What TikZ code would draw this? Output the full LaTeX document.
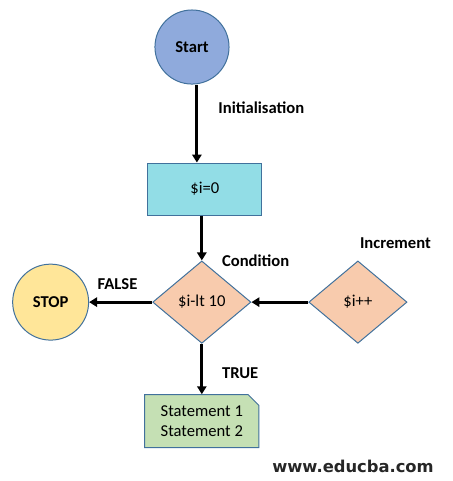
\documentclass[tikz,border=0pt]{standalone}
\usepackage{fontspec}
\setmainfont{Carlito}
\newfontfamily\webfont{DejaVu Sans}
\usetikzlibrary{shapes.geometric, shapes.misc, arrows.meta, positioning}

\definecolor{startblue}{HTML}{8FAADC}
\definecolor{initcyan}{HTML}{92DDE6}
\definecolor{diapeach}{HTML}{F8CBAD}
\definecolor{stopgold}{HTML}{FFE699}
\definecolor{stmtgreen}{HTML}{C5E0B4}
\definecolor{edgeblue}{HTML}{41719C}

\tikzset{
  box/.style={draw=edgeblue, line width=0.75pt, font=\fontsize{12.5}{14.5}\selectfont},
  term/.style={box, circle, inner sep=0pt, font=\fontsize{12.5}{14.5}\selectfont\bfseries},
  decide/.style={box, diamond, fill=diapeach, inner sep=0pt, minimum width=2.6cm, minimum height=2.18cm},
  lbl/.style={inner sep=0pt, font=\fontsize{12.5}{14.5}\selectfont\bfseries},
}

\begin{document}
\begin{tikzpicture}[>={Triangle[length=6pt, width=7pt]}]
        \useasboundingbox (-5.08,1.244) rectangle (6.906,-11.483);

        \node[term, fill=startblue, minimum size=1.96cm] (start) {Start};

        % Loop variable set once
        \node[box, fill=initcyan, minimum width=3.02cm, minimum height=1.38cm] (init) [below of=start, node distance=3.76cm, xshift=0.34cm] {\$i=0};

        % Test and the two ways out
        \node[decide] (cond) [below of=init, node distance=2.99cm, xshift=-0.08cm] {\$i-lt 10};
        \node[term, fill=stopgold, minimum size=2.01cm] (stop) [left of=cond, node distance=4cm] {STOP};
        \node[decide] (incr) [right of=cond, node distance=4.13cm] {\$i++};
        \node[box, chamfered rectangle, chamfered rectangle corners=north east, chamfered rectangle xsep=4pt, chamfered rectangle ysep=4pt, fill=stmtgreen, minimum width=3.02cm, minimum height=1.4cm, align=left] (stmt) [below of=cond, node distance=3.15cm] {Statement 1\\Statement 2};

        % Names beside the blocks
        \node[lbl, right] (condlbl) at ([xshift=0.53cm]cond.north) {Condition};
        \node[lbl, right] (incrlbl) at ([xshift=0.05cm, yshift=0.45cm]incr.north) {Increment};

        \node[font=\webfont\bfseries\fontsize{12.3}{14}\selectfont, text=black!85] (site) at (4.26,-11.09) {www.educba.com};

        \path[->, line width=2.25pt]
        % Into the loop
        ([xshift=0.13cm]start.south) edge node[lbl, right, pos=0.3, xshift=0.53cm] {Initialisation} ([xshift=0.13cm]start.south |- init.north)
        (init.south -| cond.north) edge (cond.north)

        % Leaving or running the body
        (cond) edge node[lbl, above, pos=0.55, yshift=0.29cm] {FALSE} (stop)
        (cond.south) edge node[lbl, right, pos=0.58, xshift=0.5cm] {TRUE} (cond.south |- stmt.north)

        % Back from the step
        (incr) edge (cond);
    \end{tikzpicture}
\end{document}
